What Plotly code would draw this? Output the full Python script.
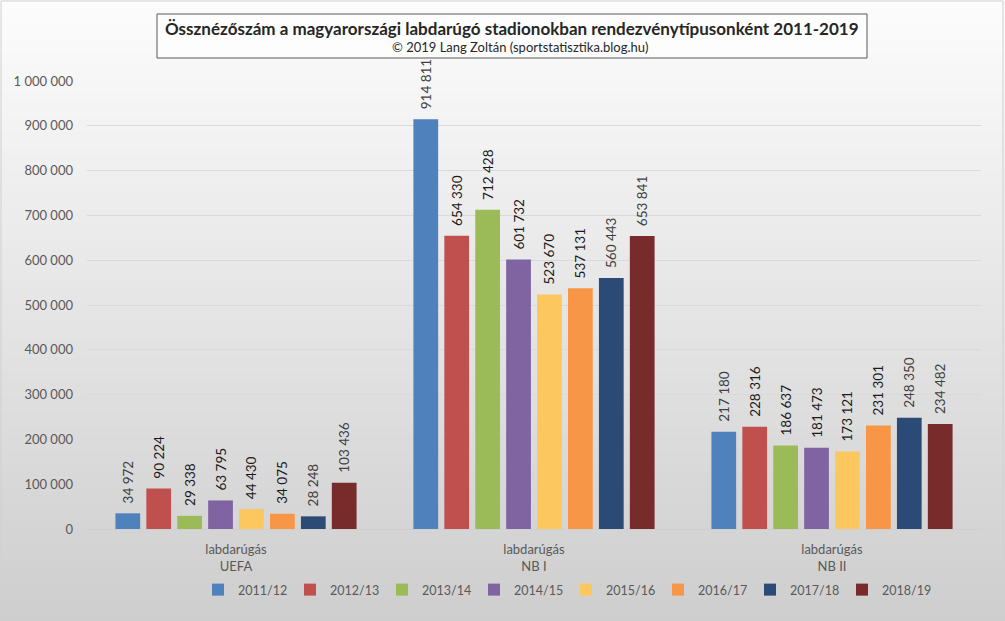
import plotly.graph_objects as go

categories = ["labdarúgás<br>UEFA", "labdarúgás<br>NB I", "labdarúgás<br>NB II"]
seasons = ["2011/12", "2012/13", "2013/14", "2014/15", "2015/16", "2016/17", "2017/18", "2018/19"]
v_2011_12 = [34972, 914811, 217180]
v_2012_13 = [90224, 654330, 228316]
v_2013_14 = [29338, 712428, 186637]
v_2014_15 = [63795, 601732, 181473]
v_2015_16 = [44430, 523670, 173121]
v_2016_17 = [34075, 537131, 231301]
v_2017_18 = [28248, 560443, 248350]
v_2018_19 = [103436, 653841, 234482]
series_values = [v_2011_12, v_2012_13, v_2013_14, v_2014_15, v_2015_16, v_2016_17, v_2017_18, v_2018_19]
y_ticks = [0, 100000, 200000, 300000, 400000, 500000, 600000, 700000, 800000, 900000, 1000000]

colors = ["#4f81bd", "#c0504d", "#9bbb59", "#8064a2", "#fdc75f", "#f79646", "#2b4b76", "#772b2a"]
label_colors = ["#404040", "#1a1a1a", "#1a1a1a", "#1a1a1a", "#1a1a1a", "#1a1a1a", "#404040", "#404040"]

W, H = 1005, 621
L, R, T, B = 87, 24, 81, 92
pw, ph = W - L - R, H - T - B

def px(x):
    return (x - L) / pw

def py(y):
    return (H - B - y) / ph

FONT = "Lato"

fig = go.Figure()
for name, vals, c, lc in zip(seasons, series_values, colors, label_colors):
    fig.add_trace(go.Bar(
        name=name, x=categories, y=vals, marker=dict(color=c, line=dict(width=0)),
        texttemplate="\u00a0\u00a0%{y:,d}", textposition="outside", textangle=-90,
        textfont=dict(family=FONT, size=13.5, color=lc), constraintext="none",
        cliponaxis=False,
    ))

# gradient background
shapes = []
n = 80
for i in range(n):
    y0 = i * H / n
    y1 = (i + 1) * H / n + 0.5
    t = i / (n - 1)
    g = round(252 - t * (252 - 206))
    shapes.append(dict(type="rect", xref="paper", yref="paper", layer="below",
                       x0=px(0), x1=px(W), y0=py(y1), y1=py(y0),
                       fillcolor=f"rgb({g},{g},{g})", line=dict(width=0)))
# outer border
shapes.append(dict(type="rect", xref="paper", yref="paper", layer="below",
                   x0=px(1), x1=px(W - 2), y0=py(H - 2), y1=py(1),
                   fillcolor="rgba(0,0,0,0)", line=dict(color="#d0d0d0", width=1)))
# title box
shapes.append(dict(type="rect", xref="paper", yref="paper", layer="above",
                   x0=px(157), x1=px(867), y0=py(58), y1=py(14),
                   fillcolor="rgba(255,255,255,0.6)", line=dict(color="#595959", width=1)))

annotations = [
    dict(text="<b>Össznézőszám a magyarországi labdarúgó stadionokban rendezvénytípusonként 2011-2019</b>",
         xref="paper", yref="paper", x=px(512), y=py(28), showarrow=False,
         font=dict(family=FONT, size=17, color="#262626"), xanchor="center", yanchor="middle"),
    dict(text="© 2019 Lang Zoltán (sportstatisztika.blog.hu)",
         xref="paper", yref="paper", x=px(520), y=py(47), showarrow=False,
         font=dict(family=FONT, size=13, color="#262626"), xanchor="center", yanchor="middle"),
]

fig.update_layout(
    width=W, height=H,
    margin=dict(l=L, r=R, t=T, b=B, pad=0, autoexpand=False),
    paper_bgcolor="#e6e6e6", plot_bgcolor="rgba(0,0,0,0)",
    separators=", ",
    barmode="group", bargap=0.17, bargroupgap=0.2,
    shapes=shapes, annotations=annotations,
    font=dict(family=FONT, color="#595959", size=12),
    showlegend=True,
    legend=dict(orientation="h", x=px(566), xanchor="center", y=py(590), yanchor="middle",
                font=dict(family=FONT, size=12.5, color="#595959"), bgcolor="rgba(0,0,0,0)",
                traceorder="normal", itemwidth=30, entrywidth=47, entrywidthmode="pixels"),
    xaxis=dict(showgrid=False, showline=True, linecolor="#cfcfcf", linewidth=1, automargin=False,
               tickfont=dict(family=FONT, size=13, color="#595959"), ticks="", ticklabelstandoff=8),
    yaxis=dict(range=[0, 1000000], tickvals=y_ticks, tickformat=",d", automargin=False,
               showgrid=True, gridcolor="#d9d9d9", gridwidth=1, zeroline=False,
               showline=False, ticks="", ticklabelstandoff=13,
               tickfont=dict(family=FONT, size=13, color="#595959")),
)

fig.write_html("out.html")
